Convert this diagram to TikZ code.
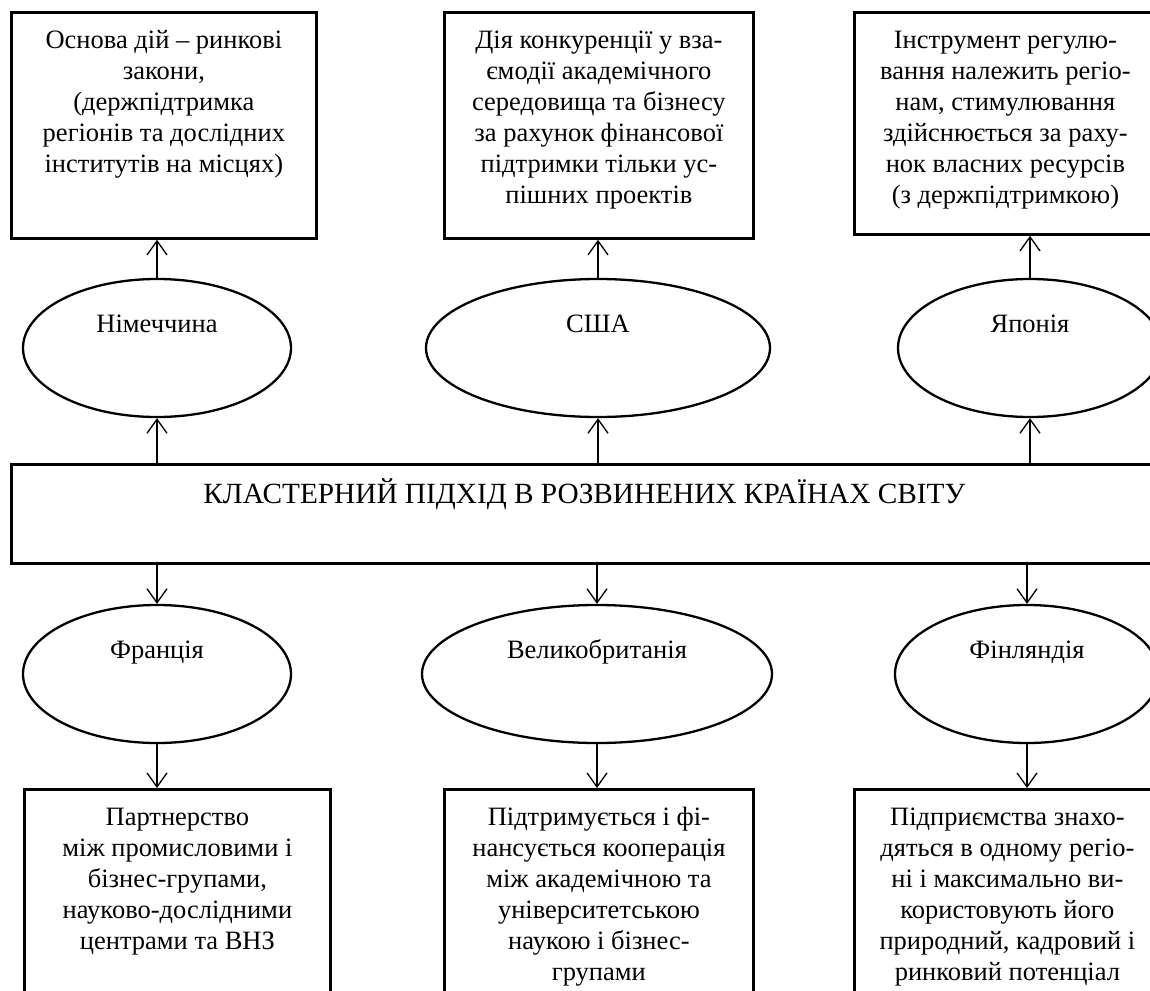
\documentclass[tikz,border=0pt]{standalone}
\usepackage{fontspec}
\setmainfont{Liberation Serif}
\usetikzlibrary{shapes.geometric,arrows.meta}
\newcommand{\bxt}[4]{\parbox[c][#2][t]{#1}{\centering\vspace*{#3}\strut #4\par}}
\begin{document}
\begin{tikzpicture}[x=1pt,y=-1pt, font=\fontsize{26.5}{31}\selectfont,
  box/.style={draw, line width=2.8pt, inner sep=0pt, anchor=north west},
  ell/.style={draw, ellipse, line width=2.3pt, inner sep=0pt, text height=18pt, text depth=50pt},
  arr/.style={line width=1.3pt, -{Straight Barb[length=14pt,width=20pt,line width=1.3pt]}}]
\useasboundingbox (0,0) rectangle (1150,990);

% top boxes
\node[box] (b1) at (10,11) {\bxt{305pt}{226pt}{14pt}{Основа дій – ринкові\\ закони,\\ (держпідтримка\\ регіонів та дослідних\\ інститутів на місцях)}};
\node[box] (b2) at (443,11) {\bxt{309pt}{226pt}{14pt}{Дія конкуренції у вза-\\ ємодії академічного\\ середовища та бізнесу\\ за рахунок фінансової\\ підтримки тільки ус-\\ пішних проектів}};
\node[box] (b3) at (853,11) {\bxt{302pt}{222pt}{14pt}{Інструмент регулю-\\ вання належить регіо-\\ нам, стимулювання\\ здійснюється за раху-\\ нок власних ресурсів\\ (з держпідтримкою)}};

% top ellipses
\node[ell, minimum width=268pt, minimum height=138pt] (e1) at (157,348) {Німеччина};
\node[ell, minimum width=344pt, minimum height=138pt] (e2) at (598,348) {США};
\node[ell, minimum width=264pt, minimum height=138pt] (e3) at (1030,348) {Японія};

% central box
\node[box, font=\fontsize{29.3}{34}\selectfont] (c) at (10,463) {\bxt{1146pt}{99pt}{14pt}{КЛАСТЕРНИЙ ПІДХІД В РОЗВИНЕНИХ КРАЇНАХ СВІТУ}};

% bottom ellipses
\node[ell, minimum width=268pt, minimum height=138pt] (e4) at (157,674) {Франція};
\node[ell, minimum width=350pt, minimum height=138pt] (e5) at (597,674) {Великобританія};
\node[ell, minimum width=264pt, minimum height=138pt] (e6) at (1027,674) {Фінляндія};

% bottom boxes
\node[box] (b4) at (23,788) {\bxt{306pt}{230pt}{14pt}{Партнерство\\ між промисловими і\\ бізнес-групами,\\ науково-дослідними\\ центрами та ВНЗ}};
\node[box] (b5) at (443,788) {\bxt{309pt}{230pt}{14pt}{Підтримується і фі-\\ нансується кооперація\\ між академічною та\\ університетською\\ наукою і бізнес-\\ групами}};
\node[box] (b6) at (853,788) {\bxt{306pt}{230pt}{14pt}{Підприємства знахо-\\ дяться в одному регіо-\\ ні і максимально ви-\\ користовують його\\ природний, кадровий і\\ ринковий потенціал}};

% connectors up
\draw[arr] (e1.north) -- (e1.north |- b1.south);
\draw[arr] (e2.north) -- (e2.north |- b2.south);
\draw[arr] (e3.north) -- (e3.north |- b3.south);
\draw[arr] (e1.south |- c.north) -- (e1.south);
\draw[arr] (e2.south |- c.north) -- (e2.south);
\draw[arr] (e3.south |- c.north) -- (e3.south);
% connectors down
\draw[arr] (e4.north |- c.south) -- (e4.north);
\draw[arr] (e5.north |- c.south) -- (e5.north);
\draw[arr] (e6.north |- c.south) -- (e6.north);
\draw[arr] (e4.south) -- (e4.south |- b4.north);
\draw[arr] (e5.south) -- (e5.south |- b5.north);
\draw[arr] (e6.south) -- (e6.south |- b6.north);
\end{tikzpicture}
\end{document}
